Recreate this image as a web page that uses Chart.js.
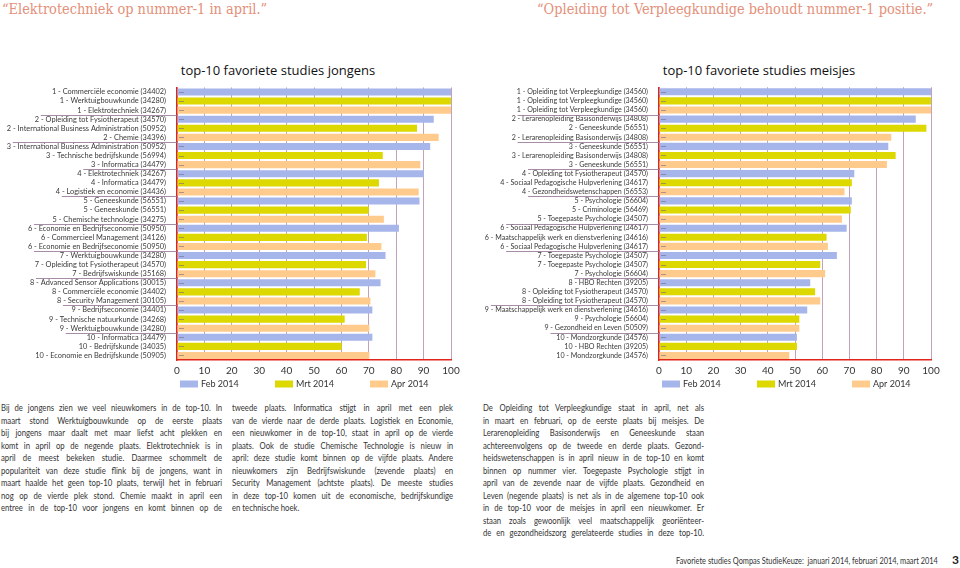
<!DOCTYPE html>
<html>
<head>
<meta charset="utf-8">
<script src="https://cdn.jsdelivr.net/npm/chart.js@4.4.1/dist/chart.umd.min.js"></script>
<style>
body { margin:0; width:960px; height:568px; position:relative; background:#fff; overflow:hidden; font-family:Lato, sans-serif; }
.kop { position:absolute; top:1px; font-family:'DejaVu Serif Condensed','DejaVu Serif',serif; font-size:14.4px; color:#e3907a; white-space:nowrap; }
.titel { position:absolute; top:61px; width:300px; text-align:center; font-family:'Open Sans'; font-size:13px; color:#111; }
canvas { position:absolute; top:80px; }
.kolom { position:absolute; top:402px; width:266px; font-size:9.3px; line-height:12.55px; color:#333; transform:scaleX(0.831); transform-origin:0 0; }
.kolom span { display:block; text-align:justify; text-align-last:justify; }
.kolom span.laatst { text-align-last:left; }
.voet { position:absolute; top:556px; left:676px; font-size:8.6px; color:#333; white-space:nowrap; transform:scaleX(0.86); transform-origin:0 0; }
.pagina { position:absolute; top:552px; left:952px; font-size:12px; font-weight:bold; color:#222; }
</style>
</head>
<body>
<div class="kop" style="left:2px">“Elektrotechniek op nummer-1 in april.”</div>
<div class="kop" style="left:537px">“Opleiding tot Verpleegkundige behoudt nummer-1 positie.”</div>
<div class="titel" style="left:128px">top-10 favoriete studies jongens</div>
<div class="titel" style="left:609px">top-10 favoriete studies meisjes</div>
<canvas id="jongens" width="470" height="320" style="left:0px"></canvas>
<canvas id="meisjes" width="470" height="320" style="left:480px"></canvas>

<div class="kolom" style="left:1px">
<span>Bij de jongens zien we veel nieuwkomers in de top-10. In</span>
<span>maart stond Werktuigbouwkunde op de eerste plaats</span>
<span>bij jongens maar daalt met maar liefst acht plekken en</span>
<span>komt in april op de negende plaats. Elektrotechniek is in</span>
<span>april de meest bekeken studie. Daarmee schommelt de</span>
<span>populariteit van deze studie flink bij de jongens, want in</span>
<span>maart haalde het geen top-10 plaats, terwijl het in februari</span>
<span>nog op de vierde plek stond. Chemie maakt in april een</span>
<span>entree in de top-10 voor jongens en komt binnen op de</span>
</div>
<div class="kolom" style="left:232px">
<span>tweede plaats. Informatica stijgt in april met een plek</span>
<span>van de vierde naar de derde plaats. Logistiek en Economie,</span>
<span>een nieuwkomer in de top-10, staat in april op de vierde</span>
<span>plaats. Ook de studie Chemische Technologie is nieuw in</span>
<span>april: deze studie komt binnen op de vijfde plaats. Andere</span>
<span>nieuwkomers zijn Bedrijfswiskunde (zevende plaats) en</span>
<span>Security Management (achtste plaats). De meeste studies</span>
<span>in deze top-10 komen uit de economische, bedrijfskundige</span>
<span class="laatst">en technische hoek.</span>
</div>
<div class="kolom" style="left:483px">
<span>De Opleiding tot Verpleegkundige staat in april, net als</span>
<span>in maart en februari, op de eerste plaats bij meisjes. De</span>
<span>Lerarenopleiding Basisonderwijs en Geneeskunde staan</span>
<span>achtereenvolgens op de tweede en derde plaats. Gezond-</span>
<span>heidswetenschappen is in april nieuw in de top-10 en komt</span>
<span>binnen op nummer vier. Toegepaste Psychologie stijgt in</span>
<span>april van de zevende naar de vijfde plaats. Gezondheid en</span>
<span>Leven (negende plaats) is net als in de algemene top-10 ook</span>
<span>in de top-10 voor de meisjes in april een nieuwkomer. Er</span>
<span>staan zoals gewoonlijk veel maatschappelijk georiënteer-</span>
<span>de en gezondheidszorg gerelateerde studies in deze top-10.</span>
</div>
<div class="voet">Favoriete studies Qompas StudieKeuze:&nbsp; januari 2014, februari 2014, maart 2014</div>
<div class="pagina">3</div>

<script>
// maanden / kleuren
var maanden = ['Feb 2014', 'Mrt 2014', 'Apr 2014'];
var kleuren = ['#a6b6ea', '#dcd800', '#fecb8c'];

// jongens, per plaats 1..10
var jongensFebLabels = ['1 - Commerciële economie (34402)', '2 - Opleiding tot Fysiotherapeut (34570)', '3 - International Business Administration (50952)', '4 - Elektrotechniek (34267)', '5 - Geneeskunde (56551)', '6 - Economie en Bedrijfseconomie (50950)', '7 - Werktuigbouwkunde (34280)', '8 - Advanced Sensor Applications (30015)', '9 - Bedrijfseconomie (34401)', '10 - Informatica (34479)'];
var jongensMrtLabels = ['1 - Werktuigbouwkunde (34280)', '2 - International Business Administration (50952)', '3 - Technische bedrijfskunde (56994)', '4 - Informatica (34479)', '5 - Geneeskunde (56551)', '6 - Commercieel Management (34126)', '7 - Opleiding tot Fysiotherapeut (34570)', '8 - Commerciële economie (34402)', '9 - Technische natuurkunde (34268)', '10 - Bedrijfskunde (34035)'];
var jongensAprLabels = ['1 - Elektrotechniek (34267)', '2 - Chemie (34396)', '3 - Informatica (34479)', '4 - Logistiek en economie (34436)', '5 - Chemische technologie (34275)', '6 - Economie en Bedrijfseconomie (50950)', '7 - Bedrijfswiskunde (35168)', '8 - Security Management (30105)', '9 - Werktuigbouwkunde (34280)', '10 - Economie en Bedrijfskunde (50905)'];
var jongensFeb = [100, 93.7, 92.4, 90.1, 88.5, 81.0, 76.1, 74.3, 71.3, 71.3];
var jongensMrt = [100, 87.6, 75.1, 73.7, 70.0, 69.3, 69.0, 66.7, 61.2, 60.1];
var jongensApr = [100, 95.5, 88.8, 88.2, 75.5, 74.6, 72.4, 70.6, 70.2, 70.2];

// meisjes
var meisjesFebLabels = ['1 - Opleiding tot Verpleegkundige (34560)', '2 - Lerarenopleiding Basisonderwijs (34808)', '3 - Geneeskunde (56551)', '4 - Opleiding tot Fysiotherapeut (34570)', '5 - Psychologie (56604)', '6 - Sociaal Pedagogische Hulpverlening (34617)', '7 - Toegepaste Psychologie (34507)', '8 - HBO Rechten (39205)', '9 - Maatschappelijk werk en dienstverlening (34616)', '10 - Mondzorgkunde (34576)'];
var meisjesMrtLabels = ['1 - Opleiding tot Verpleegkundige (34560)', '2 - Geneeskunde (56551)', '3 - Lerarenopleiding Basisonderwijs (34808)', '4 - Sociaal Pedagogische Hulpverlening (34617)', '5 - Criminologie (56469)', '6 - Maatschappelijk werk en dienstverlening (34616)', '7 - Toegepaste Psychologie (34507)', '8 - Opleiding tot Fysiotherapeut (34570)', '9 - Psychologie (56604)', '10 - HBO Rechten (39205)'];
var meisjesAprLabels = ['1 - Opleiding tot Verpleegkundige (34560)', '2 - Lerarenopleiding Basisonderwijs (34808)', '3 - Geneeskunde (56551)', '4 - Gezondheidswetenschappen (56553)', '5 - Toegepaste Psychologie (34507)', '6 - Sociaal Pedagogische Hulpverlening (34617)', '7 - Psychologie (56604)', '8 - Opleiding tot Fysiotherapeut (34570)', '9 - Gezondheid en Leven (50509)', '10 - Mondzorgkunde (34576)'];
var meisjesFeb = [100, 94.4, 84.3, 71.8, 70.9, 69.0, 65.4, 55.6, 54.5, 50.7];
var meisjesMrt = [100, 98.3, 87.0, 70.9, 70.5, 61.6, 59.3, 57.4, 51.6, 50.7];
var meisjesApr = [100, 85.4, 83.8, 68.2, 67.3, 62.1, 61.1, 59.3, 51.6, 47.9];

var xTicks = [0, 10, 20, 30, 40, 50, 60, 70, 80, 90, 100];

var rood = '#e2231a';

function bouwLabels(f, m, a) {
    var out = [];
    for (var i = 0; i < f.length; i++) {
        out.push(f[i], m[i], a[i]);
    }
    return out;
}

function bouwReeks(waarden, plek) {
    var out = [];
    for (var i = 0; i < waarden.length; i++) {
        for (var k = 0; k < 3; k++) {
            out.push(k === plek ? waarden[i] : null);
        }
    }
    return out;
}

// streepjes in de balken, scheidingslijnen per plaats en de legenda
var extraLijnen = {
    id: 'extraLijnen',
    afterDraw: function(chart) {
        var ctx = chart.ctx;
        var y = chart.scales.y;
        var a = chart.chartArea;
        var labels = chart.data.labels;
        var f = chart.options.scales.y.ticks.font;
        ctx.save();
        ctx.lineWidth = 1;

        ctx.strokeStyle = 'rgba(110,100,130,0.55)';
        for (var i = 0; i < labels.length; i++) {
            var py = Math.round(y.getPixelForValue(i)) + 0.5;
            ctx.beginPath();
            ctx.moveTo(a.left + 2, py);
            ctx.lineTo(a.left + 7, py);
            ctx.stroke();
        }

        ctx.font = f.size + 'px ' + f.family;
        ctx.strokeStyle = 'rgba(150,120,150,0.85)';
        for (var g = 3; g < labels.length; g += 3) {
            var w = Math.max(ctx.measureText(labels[g - 1]).width, ctx.measureText(labels[g]).width);
            var gy = Math.round((y.getPixelForValue(g - 1) + y.getPixelForValue(g)) / 2) + 0.5;
            ctx.beginPath();
            ctx.moveTo(Math.max(0, a.left - 3 - w - 2), gy);
            ctx.lineTo(a.left, gy);
            ctx.stroke();
        }

        // legenda
        ctx.font = '9px Lato';
        ctx.textBaseline = 'middle';
        var ly = a.bottom + 24;
        chart.data.datasets.forEach(function(ds, n) {
            var lx = a.left + 3 + n * 95;
            ctx.fillStyle = ds.backgroundColor;
            ctx.fillRect(lx, ly - 3.5, 18, 7);
            ctx.fillStyle = '#333';
            ctx.fillText(ds.label, lx + 21, ly);
        });
        ctx.restore();
    }
};

function maakGrafiek(id, f, m, a, vf, vm, va, yBreedte, fontSize) {
    var ctx = document.getElementById(id).getContext('2d');
    var datasets = [vf, vm, va].map(function(w, n) {
        return {
            label: maanden[n],
            data: bouwReeks(w, n),
            backgroundColor: kleuren[n],
            barPercentage: 0.78,
            categoryPercentage: 1
        };
    });
    return new Chart(ctx, {
        type: 'bar',
        data: {
            labels: bouwLabels(f, m, a),
            datasets: datasets
        },
        options: {
            indexAxis: 'y',
            responsive: false,
            animation: false,
            layout: {padding: {top: 7, right: 19, bottom: 20, left: 0}},
            plugins: {
                legend: {display: false},
                tooltip: {enabled: false}
            },
            scales: {
                x: {
                    stacked: true,
                    min: 0,
                    max: 100,
                    afterBuildTicks: function(s) {
                        s.ticks = xTicks.map(function(v) { return {value: v}; });
                    },
                    afterFit: function(s) { s.height = 20; },
                    grid: {color: 'rgba(160,110,150,0.65)', drawTicks: false},
                    border: {display: true, color: rood, width: 1.5},
                    ticks: {font: {family: 'Lato', size: 10}, color: '#333', padding: 5}
                },
                y: {
                    stacked: true,
                    afterFit: function(s) { s.width = yBreedte; },
                    grid: {display: false},
                    border: {display: true, color: rood, width: 1.5},
                    ticks: {autoSkip: false, font: {family: 'Lato', size: fontSize}, color: '#3a3a3a', padding: 3}
                }
            }
        },
        plugins: [extraLijnen]
    });
}

maakGrafiek('jongens', jongensFebLabels, jongensMrtLabels, jongensAprLabels, jongensFeb, jongensMrt, jongensApr, 177, 7.4);
maakGrafiek('meisjes', meisjesFebLabels, meisjesMrtLabels, meisjesAprLabels, meisjesFeb, meisjesMrt, meisjesApr, 179, 7.1);
</script>
</body>
</html>
